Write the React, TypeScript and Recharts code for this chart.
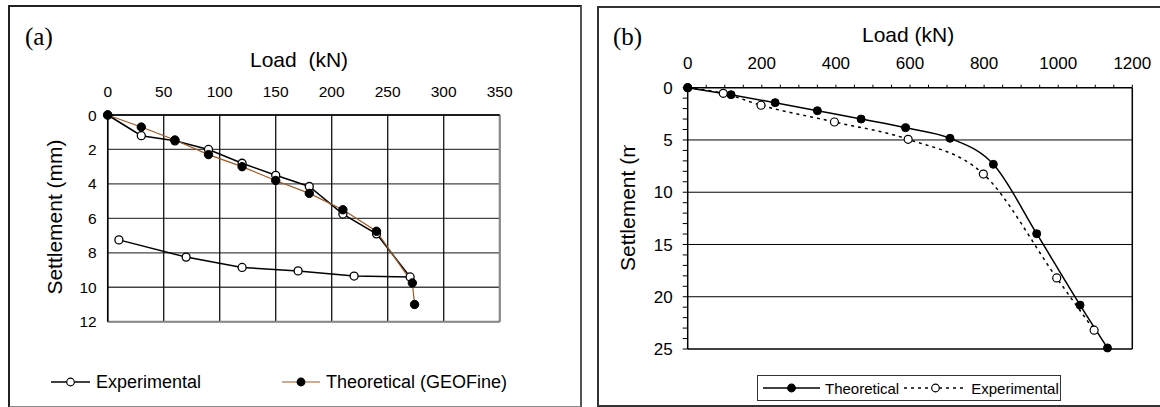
import React from 'react';
import { LineChart, Line, XAxis, YAxis, CartesianGrid, ReferenceLine } from 'recharts';

// (a) load-settlement, experimental loading + unloading
const expLoadA = [0, 30, 60, 90, 120, 150, 180, 210, 240, 270, 220, 170, 120, 70, 10];
const expSettleA = [0, 1.2, 1.5, 2.0, 2.8, 3.5, 4.15, 5.75, 6.9, 9.4, 9.35, 9.05, 8.85, 8.25, 7.25];
const theoLoadA = [0, 30, 60, 90, 120, 150, 180, 210, 240, 272, 274];
const theoSettleA = [0, 0.7, 1.45, 2.3, 3.0, 3.8, 4.55, 5.5, 6.75, 9.75, 11.0];
const loadTicksA = [0, 50, 100, 150, 200, 250, 300, 350];
const settleTicksA = [0, 2, 4, 6, 8, 10, 12];

// (b)
const theoLoadB = [0, 117, 236, 350, 468, 588, 708, 825, 942, 1059, 1133];
const theoSettleB = [0, 0.67, 1.43, 2.2, 3.0, 3.83, 4.84, 7.33, 13.97, 20.8, 24.9];
const expLoadB = [0, 96, 198, 396, 595, 798, 996, 1097];
const expSettleB = [0, 0.54, 1.68, 3.28, 4.94, 8.26, 18.2, 23.2];
const loadTicksB = [0, 50, 100, 150, 200, 250, 300, 350, 400, 450, 500, 550, 600, 650, 700, 750, 800, 850, 900, 950, 1000, 1050, 1100, 1150, 1200];
const settleTicksB = Array.from({ length: 26 }, (_, i) => i);
const gridB = [5, 10, 15, 20];

const zip = (xs: number[], ys: number[]) => xs.map((x, i) => ({ load: x, s: ys[i] }));

const FONT = '"Liberation Sans", Arial, sans-serif';
const SERIF = '"Liberation Serif", "Times New Roman", serif';

const abs = (l: number, t: number, extra: React.CSSProperties = {}): React.CSSProperties => ({
  position: 'absolute', left: l, top: t, ...extra,
});

const ChartA = () => (
  <LineChart
    width={580}
    height={407}
    margin={{ top: 85, right: 80.3, bottom: 85.3, left: 67.7 }}
  >
    <CartesianGrid stroke="#444" strokeWidth={1.3} vertical={false} />
    <CartesianGrid stroke="#111" strokeWidth={1.3} horizontal={false} />
    <XAxis
      dataKey="load"
      type="number"
      orientation="top"
      domain={[0, 350]}
      ticks={loadTicksA}
      interval={0}
      height={30}
      tickSize={0}
      tickMargin={18}
      axisLine={{ stroke: '#000', strokeWidth: 1.5 }}
      tick={{ fill: '#000', fontSize: 15.5, fontFamily: FONT }}
    />
    <YAxis
      type="number"
      reversed
      domain={[0, 12]}
      ticks={settleTicksA}
      interval={0}
      width={40}
      tickSize={0}
      tickMargin={11}
      axisLine={{ stroke: '#000', strokeWidth: 1.5 }}
      tick={{ fill: '#000', fontSize: 15.5, fontFamily: FONT }}
    />
    <ReferenceLine x={350} stroke="#888" strokeWidth={2} />
    <ReferenceLine y={12} stroke="#888" strokeWidth={2} />
    <Line
      data={zip(expLoadA, expSettleA)}
      dataKey="s"
      type="linear"
      stroke="#000"
      strokeWidth={1.5}
      dot={{ r: 4, fill: '#fff', stroke: '#000', strokeWidth: 1.3 }}
      isAnimationActive={false}
    />
    <Line
      data={zip(theoLoadA, theoSettleA)}
      dataKey="s"
      type="linear"
      stroke="#9a5b2a"
      strokeWidth={1.2}
      dot={{ r: 4.2, fill: '#000', stroke: '#000', strokeWidth: 1 }}
      isAnimationActive={false}
    />
  </LineChart>
);

const ChartB = () => (
  <LineChart
    width={562}
    height={407}
    margin={{ top: 57.7, right: 27.7, bottom: 58, left: 49.7 }}
  >
    <XAxis
      dataKey="load"
      type="number"
      orientation="top"
      domain={[0, 1200]}
      ticks={loadTicksB}
      interval={0}
      height={30}
      tickSize={3}
      tickMargin={16}
      tickFormatter={(v: number) => (v % 200 === 0 ? String(v) : '')}
      axisLine={{ stroke: '#000', strokeWidth: 1.5 }}
      tickLine={{ stroke: '#000' }}
      tick={{ fill: '#000', fontSize: 17, fontFamily: FONT }}
    />
    <YAxis
      type="number"
      reversed
      domain={[0, 25]}
      ticks={settleTicksB}
      interval={0}
      width={40}
      tickSize={5}
      tickMargin={10}
      tickFormatter={(v: number) => (v % 5 === 0 ? String(v) : '')}
      axisLine={{ stroke: '#000', strokeWidth: 1.5 }}
      tickLine={{ stroke: '#000' }}
      tick={{ fill: '#000', fontSize: 17, fontFamily: FONT }}
    />
    {gridB.map((g) => (
      <ReferenceLine key={g} y={g} stroke="#000" strokeWidth={1} />
    ))}
    <ReferenceLine x={1200} stroke="#000" strokeWidth={1.5} />
    <ReferenceLine y={25} stroke="#000" strokeWidth={1.5} />
    <Line
      data={zip(expLoadB, expSettleB)}
      dataKey="s"
      type="monotone"
      stroke="#000"
      strokeWidth={1.5}
      strokeDasharray="3 4"
      dot={{ r: 4, fill: '#fff', stroke: '#000', strokeWidth: 1.2, strokeDasharray: 'none' }}
      isAnimationActive={false}
    />
    <Line
      data={zip(theoLoadB, theoSettleB)}
      dataKey="s"
      type="monotone"
      stroke="#000"
      strokeWidth={1.5}
      dot={{ r: 4, fill: '#000', stroke: '#000', strokeWidth: 1 }}
      isAnimationActive={false}
    />
  </LineChart>
);

const Icon = ({ w, line, dash, fill, width = 1.5 }: { w: number; line: string; dash?: string; fill: string; width?: number }) => (
  <svg width={w} height={12} style={{ display: 'block' }}>
    <line x1={0} y1={6} x2={w} y2={6} stroke={line} strokeWidth={width} strokeDasharray={dash} />
    <circle cx={w / 2} cy={6} r={3.8} fill={fill} stroke="#000" strokeWidth={1.2} />
  </svg>
);

export default function App() {
  return (
    <div style={{ position: 'absolute', left: 0, top: 0, width: 1160, height: 407, overflow: 'hidden', background: '#fff', fontFamily: FONT }}>
      {/* panel frames */}
      <div style={abs(8, 5, { width: 570, height: 399, borderLeft: '2px solid #222', borderTop: '2px solid #222', borderRight: '2px solid #555', borderBottom: '2px solid #888' })} />
      <div style={abs(597, 6, { width: 570, height: 397, border: '2px solid #333' })} />

      <div style={abs(0, 0)}><ChartA /></div>
      <div style={abs(598, 0)}><ChartB /></div>

      {/* panel (a) texts */}
      <div style={abs(25, 24, { fontFamily: SERIF, fontSize: 25, lineHeight: '26px' })}>(a)</div>
      <div style={abs(250, 48, { fontSize: 21, whiteSpace: 'pre', lineHeight: '24px' })}>Load  (kN)</div>
      <div style={abs(55, 217, { fontSize: 21, whiteSpace: 'nowrap', transform: 'translate(-50%, -50%) rotate(-90deg)' })}>Settlement (mm)</div>
      <div style={abs(51, 372, { display: 'flex', alignItems: 'center', fontSize: 18, lineHeight: '20px' })}>
        <Icon w={39} line="#000" fill="#fff" />
        <span style={{ marginLeft: 6 }}>Experimental</span>
      </div>
      <div style={abs(282, 372, { display: 'flex', alignItems: 'center', fontSize: 18, lineHeight: '20px' })}>
        <Icon w={38} line="#9a5b2a" fill="#000" width={1.2} />
        <span style={{ marginLeft: 6 }}>Theoretical (GEOFine)</span>
      </div>

      {/* panel (b) texts */}
      <div style={abs(613, 24, { fontFamily: SERIF, fontSize: 25, lineHeight: '26px' })}>(b)</div>
      <div style={abs(862, 23, { fontSize: 21, whiteSpace: 'pre', lineHeight: '24px' })}>Load (kN)</div>
      <div style={abs(612, 145, { width: 32, height: 150, overflow: 'hidden' })}>
        <div style={{ position: 'absolute', left: 16, bottom: 0, fontSize: 21, whiteSpace: 'nowrap', transformOrigin: '0 0', transform: 'rotate(-90deg) translate(0, -50%)' }}>Settlement (mm)</div>
      </div>
      <div style={abs(757, 375, { width: 302, height: 24, border: '1px solid #333', display: 'flex', alignItems: 'center', fontSize: 15 })}>
        <span style={{ marginLeft: 5 }}><Icon w={57} line="#000" fill="#000" /></span>
        <span style={{ marginLeft: 5 }}>Theoretical</span>
        <span style={{ marginLeft: 5 }}><Icon w={63} line="#000" dash="3 4" fill="#fff" /></span>
        <span style={{ marginLeft: 4 }}>Experimental</span>
      </div>
    </div>
  );
}
